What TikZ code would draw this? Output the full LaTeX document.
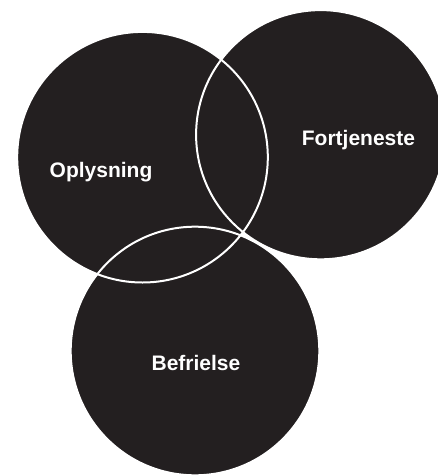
\documentclass[tikz,border=0pt]{standalone}
\usepackage{fontspec}
\setmainfont{Liberation Sans}
\definecolor{ink}{HTML}{231F20}
\begin{document}
\begin{tikzpicture}[x=1pt,y=-1pt,
  disc/.style={fill=ink},
  rim/.style={draw=white,line width=2pt},
  lbl/.style={text=white,font=\fontsize{21}{25}\selectfont\bfseries,anchor=base,inner sep=0pt}]
\useasboundingbox (0,0) rectangle (438,475);
\begin{scope}
\clip (0,0) rectangle (438,475);
\fill[disc] (142.5,157.2) circle (125.3);
\fill[disc] (320.7,134.7) circle (124.6);
\fill[disc] (195,351) circle (124.3);
\draw[rim] (142.5,157.2) circle (125.3);
\draw[rim] (320.7,134.7) circle (124.6);
\draw[rim] (195,351) circle (124.3);
\end{scope}
\node[lbl] (oplysning) at (101,177) {Oplysning};
\node[lbl] (fortjeneste) at (358.5,145) {Fortjeneste};
\node[lbl] (befrielse) at (196,370) {Befrielse};
\end{tikzpicture}
\end{document}
